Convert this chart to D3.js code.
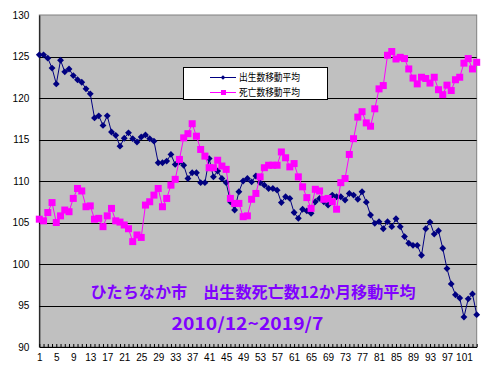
<!DOCTYPE html>
<html>
<head>
    <meta charset="utf-8">
    <title>ひたちなか市 出生数死亡数12か月移動平均</title>
    <script src="https://d3js.org/d3.v7.min.js"></script>
    <style>
    body{margin:0;background:#fff;}
    svg{display:block;}
    .tick-label{font-family:"Liberation Sans",Arial,sans-serif;font-size:10px;fill:#000;}
    .legend-text{font-family:"Noto Sans CJK JP",sans-serif;font-size:10px;fill:#000;}
    .title{font-family:"Noto Sans CJK JP",sans-serif;font-weight:bold;fill:#8000ff;}
    </style>
</head>
<body>
<script type="text/javascript">

// 12-month moving averages, months 1..104 (2010/12 - 2019/7)
const births = [
    125.2,125.2,124.8,123.6,121.7,124.55,123.15,123.5,122.7,122.2,
    121.9,121.1,120.5,117.6,117.85,116.7,117.85,115.9,115.5,114.2,
    115.15,115.8,115.1,114.7,115.3,115.55,115.1,114.8,112.2,112.2,
    112.4,113.2,112.0,112.3,111.9,110.3,111.0,111.0,109.8,109.8,
    112.7,110.5,111.2,110.3,109.8,107.5,106.5,108.7,110.0,110.3,
    109.9,110.6,109.8,109.5,109.1,109.1,108.9,107.4,108.1,107.9,
    106.2,105.5,106.6,106.4,106.1,107.5,107.9,107.5,107.1,108.3,
    108.1,108.1,107.7,108.5,108.3,107.8,108.7,107.45,105.9,104.9,
    105.1,104.25,105.1,104.5,105.45,104.5,103.3,102.5,102.25,102.25,
    101.05,104.25,105.05,103.6,104.0,101.9,99.45,97.6,96.3,95.9,
    93.6,95.8,96.4,93.9
];
const deaths = [
    105.4,105.2,106.2,107.4,105.0,105.8,106.5,106.3,107.9,109.1,
    108.8,106.9,107.0,105.4,105.5,104.5,105.8,106.7,105.2,105.05,
    104.7,104.25,102.7,103.5,103.2,107.1,107.5,108.3,109.1,106.9,
    107.9,109.5,110.2,112.6,115.2,115.7,116.9,115.4,113.8,113.0,
    111.6,111.6,112.5,111.8,111.4,107.9,107.3,107.3,105.7,105.8,
    107.8,108.5,110.5,111.6,111.9,111.9,111.9,113.5,112.8,111.7,
    112.1,110.5,109.3,108.0,106.7,109.0,108.8,107.8,107.9,107.5,
    106.6,109.8,110.3,113.2,115.1,117.7,118.35,117.0,116.6,118.7,
    121.1,121.5,125.15,125.6,124.7,124.9,124.75,123.5,122.4,121.7,
    122.5,122.35,121.8,122.5,121.0,120.4,121.55,120.9,122.2,122.5,
    124.2,124.75,123.5,124.3
];
const months = d3.range(1, births.length + 1);
const xTickLabels = [1,5,9,13,17,21,25,29,33,37,41,45,49,53,57,61,65,69,73,77,81,85,89,93,97,101];
const yTickLabels = [90,95,100,105,110,115,120,125,130];
const seriesNames = ["出生数移動平均","死亡数移動平均"];
const titleLines = ["ひたちなか市　出生数死亡数12か月移動平均","2010/12~2019/7"];

const width = 483, height = 368;
const plot = {left:39.3, right:476.7, top:15, bottom:347};

const svg = d3.select("body").append("svg")
    .attr("width", width)
    .attr("height", height);

const x = d3.scaleLinear().domain([1, months.length]).range([plot.left, plot.right]);
const y = d3.scaleLinear().domain([90, 130]).range([plot.bottom, plot.top]);

//plot background
svg.append("rect")
    .attr("x", plot.left).attr("y", plot.top)
    .attr("width", plot.right - plot.left).attr("height", plot.bottom - plot.top)
    .attr("fill", "#c0c0c0")
    .attr("stroke", "#808080");

//gridlines
svg.append("g").selectAll("line")
    .data(yTickLabels.filter(d => d > 90 && d < 130))
    .join("line")
    .attr("x1", plot.left).attr("x2", plot.right)
    .attr("y1", d => Math.round(y(d)) + 0.5).attr("y2", d => Math.round(y(d)) + 0.5)
    .attr("stroke", "#000");

//y axis
const yAxis = svg.append("g").attr("transform", `translate(${plot.left},0)`)
    .call(d3.axisLeft(y).tickValues(yTickLabels).tickSize(0).tickPadding(10));
yAxis.select(".domain").attr("stroke", "#000");
yAxis.selectAll("text").attr("class", "tick-label");

//x axis with a minor tick for every month
const xAxis = svg.append("g").attr("transform", `translate(0,${plot.bottom})`)
    .call(d3.axisBottom(x).tickValues(months).tickSizeInner(-3).tickSizeOuter(0).tickPadding(7)
        .tickFormat(d => xTickLabels.includes(d) ? d : ""));
xAxis.select(".domain").attr("stroke", "#000");
xAxis.selectAll("line").attr("stroke", "#000");
xAxis.selectAll("text").attr("class", "tick-label");

const line = d3.line().x((d, i) => x(months[i])).y(d => y(d));

//births: navy line with diamonds
svg.append("path")
    .datum(births)
    .attr("d", line)
    .attr("fill", "none")
    .attr("stroke", "#000080")
    .attr("stroke-width", 1);
svg.append("g").selectAll("path")
    .data(births)
    .join("path")
    .attr("d", d3.symbol(d3.symbolDiamond2, 30))
    .attr("transform", (d, i) => `translate(${x(months[i])},${y(d)})`)
    .attr("fill", "#000080");

//deaths: magenta line with squares
svg.append("path")
    .datum(deaths)
    .attr("d", line)
    .attr("fill", "none")
    .attr("stroke", "#ff00ff")
    .attr("stroke-width", 1);
svg.append("g").selectAll("rect")
    .data(deaths)
    .join("rect")
    .attr("x", (d, i) => x(months[i]) - 3.5)
    .attr("y", d => y(d) - 3.5)
    .attr("width", 7).attr("height", 7)
    .attr("fill", "#ff00ff");

//legend
const legend = svg.append("g");
legend.append("rect")
    .attr("x", 183.5).attr("y", 67.5)
    .attr("width", 144).attr("height", 32)
    .attr("fill", "#fff").attr("stroke", "#000");
const legendColors = ["#000080", "#ff00ff"];
seriesNames.forEach(function(name, i){
    const ly = 77 + i * 15;
    legend.append("line")
        .attr("x1", 210).attr("x2", 236)
        .attr("y1", ly + 0.5).attr("y2", ly + 0.5)
        .attr("stroke", legendColors[i]);
    if (i === 0) {
        legend.append("path")
            .attr("d", d3.symbol(d3.symbolDiamond2, 14))
            .attr("transform", `translate(223,${ly + 0.5})`)
            .attr("fill", legendColors[i]);
    } else {
        legend.append("rect")
            .attr("x", 221).attr("y", ly - 2).attr("width", 5).attr("height", 5)
            .attr("fill", legendColors[i]);
    }
    legend.append("text")
        .attr("class", "legend-text")
        .attr("x", 239).attr("y", ly + 4)
        .attr("textLength", 61).attr("lengthAdjust", "spacingAndGlyphs")
        .text(name);
});

//title annotations inside the plot
svg.append("text")
    .attr("class", "title")
    .attr("x", 90.5).attr("y", 298)
    .style("font-size", "16px")
    .attr("textLength", 325).attr("lengthAdjust", "spacingAndGlyphs")
    .text(titleLines[0]);
svg.append("text")
    .attr("class", "title")
    .attr("x", 171.5).attr("y", 329.5)
    .style("font-size", "17px")
    .attr("textLength", 152).attr("lengthAdjust", "spacingAndGlyphs")
    .text(titleLines[1]);

</script>
</body>
</html>
